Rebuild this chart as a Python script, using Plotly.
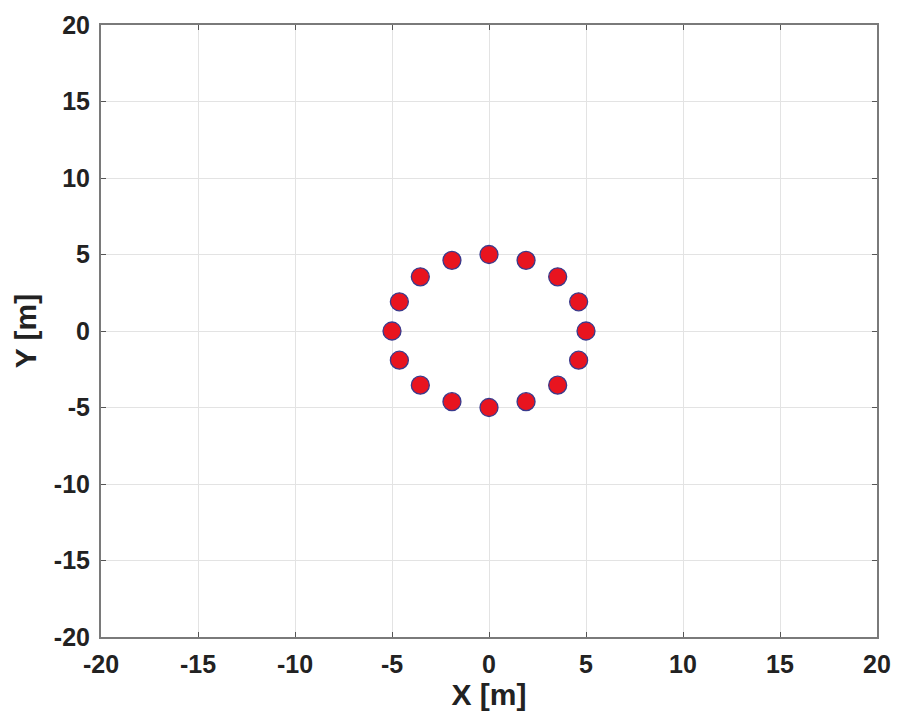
import plotly.graph_objects as go

# Sensor positions on a ring (metres)
x_pos = [5.0, 4.62, 3.54, 1.91, 0.0, -1.91, -3.54, -4.62, -5.0, -4.62, -3.54, -1.91, 0.0, 1.91, 3.54, 4.62]
y_pos = [0.0, 1.91, 3.54, 4.62, 5.0, 4.62, 3.54, 1.91, 0.0, -1.91, -3.54, -4.62, -5.0, -4.62, -3.54, -1.91]

tick_vals = [-20, -15, -10, -5, 0, 5, 10, 15, 20]
tick_text = ["-20", "-15", "-10", "-5", "0", "5", "10", "15", "20"]

FONT = "Liberation Sans, Arial, sans-serif"

fig = go.Figure()
fig.add_trace(go.Scatter(
    x=x_pos, y=y_pos, mode="markers",
    marker=dict(size=18, color="#e8141f", line=dict(color="#3a3a8c", width=1.3)),
    showlegend=False,
))

axis_common = dict(
    range=[-20, 20],
    tickmode="array",
    tickvals=tick_vals,
    ticktext=tick_text,
    showgrid=True,
    gridcolor="#e3e3e3",
    gridwidth=1,
    zeroline=False,
    showline=True,
    linecolor="#7a7a7a",
    linewidth=2,
    mirror="allticks",
    ticks="inside",
    ticklen=5,
    tickcolor="#555555",
    automargin=False,
    tickfont=dict(family=FONT, size=25, color="#222222", weight="bold"),
)

fig.update_xaxes(
    **axis_common,
    ticklabelstandoff=4,
    title=dict(text="<b>X [m]</b>", font=dict(family=FONT, size=30, color="#222222"), standoff=2),
)
fig.update_yaxes(
    **axis_common,
    ticklabelstandoff=4,
    title=dict(text="<b>Y [m]</b>", font=dict(family=FONT, size=30, color="#222222"), standoff=8),
)

fig.update_layout(
    width=897, height=719,
    margin=dict(l=101, r=20, t=25, b=82),
    plot_bgcolor="white",
    paper_bgcolor="white",
)

fig.write_html("out.html")
